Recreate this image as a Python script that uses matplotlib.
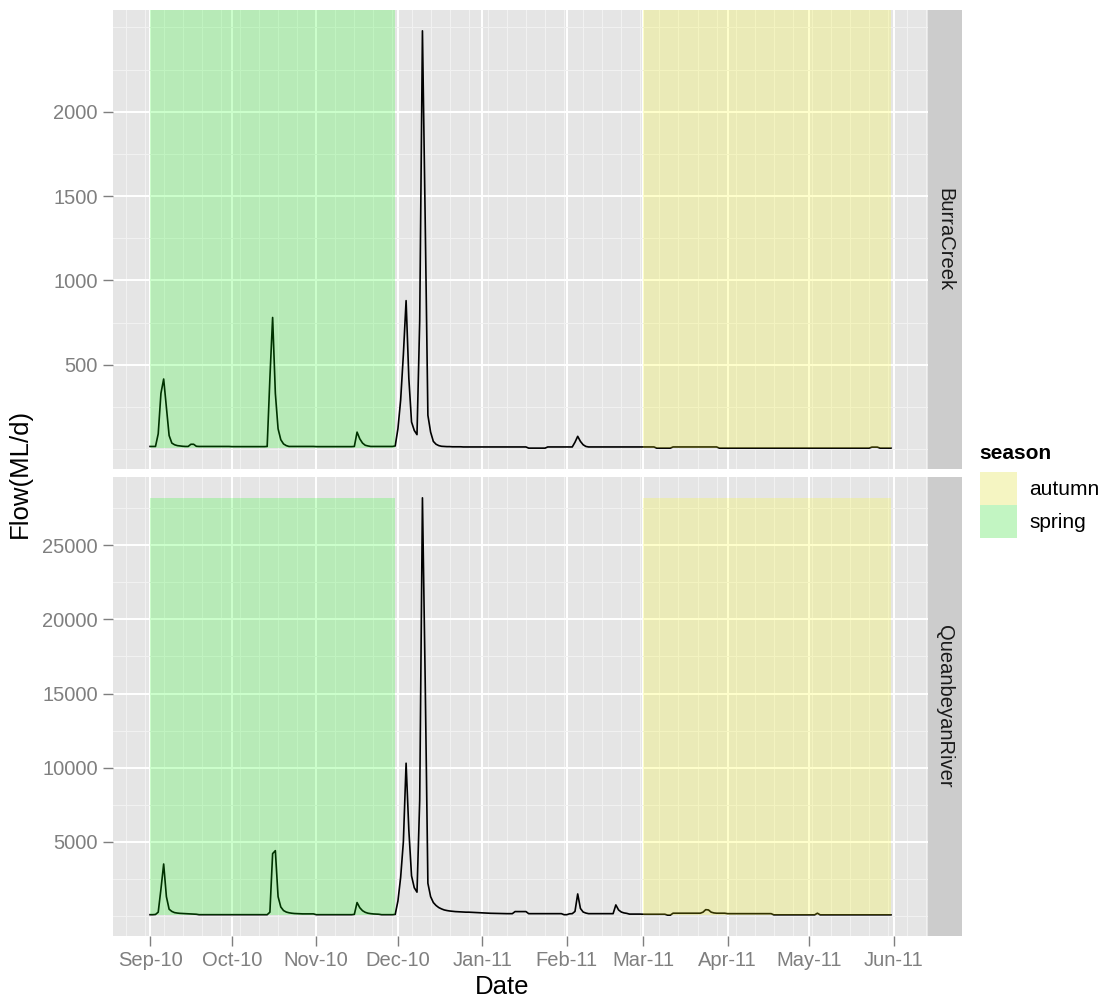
import pandas as pd
import matplotlib
matplotlib.use("Agg")
import matplotlib.pyplot as plt
import matplotlib.dates as mdates
import matplotlib.colors as mcolors
from matplotlib.patches import Patch

plt.rcParams['font.family'] = ['Liberation Sans', 'DejaVu Sans']

# daily flow (ML/d), 1 Sep 2010 - 31 May 2011
start_date = "2010-09-01"
burra_flow = [
    # Sep
    15, 15, 15, 90, 330, 415, 250, 80, 35, 25, 20, 18, 16, 15, 15, 28, 28, 16, 15, 15,
    15, 15, 15, 15, 15, 15, 15, 15, 15, 15,
    # Oct
    14, 14, 14, 14, 14, 14, 14, 14, 14, 14, 14, 14, 14, 15, 420, 780, 330, 120, 55, 30,
    20, 15, 15, 15, 15, 15, 15, 15, 15, 15, 15,
    # Nov
    14, 14, 14, 14, 14, 14, 14, 14, 14, 14, 14, 14, 14, 14, 15, 100, 60, 35, 22, 18,
    15, 15, 15, 15, 15, 15, 15, 15, 15, 18,
    # Dec
    120, 290, 560, 880, 420, 160, 110, 85, 760, 2480, 1370, 200, 100, 45, 28, 20, 16, 15, 14, 14,
    13, 13, 13, 13, 12, 12, 12, 12, 12, 12, 12,
    # Jan
    12, 12, 12, 12, 12, 12, 12, 12, 12, 12, 12, 12, 12, 12, 12, 12, 12, 5, 5, 5,
    5, 5, 5, 5, 12, 12, 12, 12, 12, 12, 12,
    # Feb
    12, 12, 12, 40, 75, 45, 25, 15, 12, 12, 12, 12, 12, 12, 12, 12, 12, 12, 12, 12,
    12, 12, 12, 12, 12, 12, 12, 12,
    # Mar
    12, 12, 12, 12, 12, 5, 5, 5, 5, 5, 5, 12, 12, 12, 12, 12, 12, 12, 12, 12,
    12, 12, 12, 12, 12, 12, 12, 12, 5, 5, 5,
    # Apr
    5, 5, 5, 5, 5, 5, 5, 5, 5, 5, 5, 5, 5, 5, 5, 5, 5, 5, 5, 5,
    5, 5, 5, 5, 5, 5, 5, 5, 5, 5,
    # May
    5, 5, 5, 5, 5, 5, 5, 5, 5, 5, 5, 5, 5, 5, 5, 5, 5, 5, 5, 5,
    5, 5, 5, 11, 11, 11, 5, 5, 5, 5, 5,
]
queanbeyan_flow = [
    # Sep
    80, 80, 95, 250, 1800, 3500, 1300, 450, 300, 220, 190, 170, 160, 150, 140, 130, 120, 110, 80, 80,
    80, 80, 80, 80, 80, 80, 80, 80, 80, 80,
    # Oct
    80, 80, 80, 80, 80, 80, 80, 80, 80, 80, 80, 80, 80, 80, 250, 4200, 4400, 1300, 600, 360,
    260, 210, 180, 160, 150, 135, 135, 135, 135, 135, 135,
    # Nov
    80, 80, 80, 80, 80, 80, 80, 80, 80, 80, 80, 80, 80, 80, 100, 900, 550, 350, 240, 180,
    150, 130, 120, 110, 80, 80, 80, 80, 80, 100,
    # Dec
    1000, 2600, 5000, 10300, 5800, 2700, 1900, 1600, 7800, 28200, 16000, 2200, 1300, 900, 700, 560, 470, 400, 360, 330,
    310, 290, 280, 270, 260, 250, 250, 240, 230, 220, 210,
    # Jan
    200, 190, 180, 175, 170, 165, 160, 155, 150, 150, 150, 150, 290, 290, 290, 290, 290, 150, 150, 150,
    150, 150, 150, 150, 150, 150, 150, 150, 150, 150, 80,
    # Feb
    80, 140, 150, 300, 1480, 500, 260, 190, 150, 150, 150, 150, 150, 150, 150, 150, 150, 150, 740, 400,
    260, 200, 170, 120, 120, 120, 120, 120,
    # Mar
    110, 110, 110, 110, 110, 110, 110, 110, 110, 50, 50, 180, 180, 180, 180, 180, 180, 180, 180, 180,
    180, 180, 250, 420, 400, 250, 200, 180, 180, 180, 180,
    # Apr
    150, 150, 150, 150, 150, 150, 150, 150, 150, 150, 150, 150, 150, 150, 150, 150, 150, 70, 70, 70,
    70, 70, 70, 70, 70, 70, 70, 70, 70, 70,
    # May
    70, 70, 70, 180, 70, 70, 70, 70, 70, 70, 70, 70, 70, 70, 70, 70, 70, 70, 70, 70,
    70, 70, 70, 70, 70, 70, 70, 70, 70, 70, 70,
]
site_names = ["BurraCreek", "QueanbeyanRiver"]
season_names = ["autumn", "spring"]
season_starts = ["2011-03-01", "2010-09-01"]
season_ends = ["2011-05-31", "2010-11-30"]
season_colors = ["#FFFF00", "#00FF00"]
y_breaks = [[500, 1000, 1500, 2000], [5000, 10000, 15000, 20000, 25000]]
y_minor = [[0, 250, 750, 1250, 1750, 2250, 2500],
           [0, 2500, 7500, 12500, 17500, 22500, 27500]]

dates = pd.date_range(start_date, periods=len(burra_flow), freq="D")
flows = [burra_flow, queanbeyan_flow]
rect_top = max(max(burra_flow), max(queanbeyan_flow))

W, H = 1102, 997
fig = plt.figure(figsize=(W / 100, H / 100), dpi=100)

panel_left, panel_right = 113, 928
panels = [(10, 469), (477, 936)]
tick_col = "#7F7F7F"

x0 = mdates.date2num(dates[0])
x1 = mdates.date2num(dates[-1])
xpad = 0.05 * (x1 - x0)

for i, (top, bot) in enumerate(panels):
    ax = fig.add_axes([panel_left / W, 1 - bot / H, (panel_right - panel_left) / W, (bot - top) / H])
    ax.set_facecolor("#E5E5E5")
    for s in ax.spines.values():
        s.set_visible(False)
    ax.set_axisbelow(True)

    flow = flows[i]
    ax.plot(dates, flow, color="black", lw=1.2, zorder=2)
    for name, s0, s1, col in zip(season_names, season_starts, season_ends, season_colors):
        ax.fill_between(pd.to_datetime([s0, s1]), min(flow), rect_top,
                        color=col, alpha=0.2, lw=0, zorder=3)

    lo, hi = min(flow), max(flow)
    ypad = 0.05 * (hi - lo)
    ax.set_ylim(lo - ypad, hi + ypad)
    ax.set_xlim(x0 - xpad, x1 + xpad)

    ax.xaxis.set_major_locator(mdates.MonthLocator())
    ax.xaxis.set_major_formatter(mdates.DateFormatter("%b-%y"))
    ax.xaxis.set_minor_locator(mdates.WeekdayLocator(byweekday=mdates.MO))
    ax.set_yticks(y_breaks[i])
    ax.set_yticks(y_minor[i], minor=True)

    ax.grid(which="major", color="white", lw=1.4)
    ax.grid(which="minor", color="#F2F2F2", lw=0.7)
    ax.tick_params(which="minor", length=0)
    ax.tick_params(which="major", length=7, width=1, color=tick_col,
                   labelcolor=tick_col, labelsize=14.5, pad=4)
    if i == 0:
        ax.tick_params(axis="x", which="both", length=0, labelbottom=False)

    # facet strip
    sax = fig.add_axes([panel_right / W, 1 - bot / H, 34 / W, (bot - top) / H])
    sax.set_facecolor("#CCCCCC")
    sax.set_xticks([])
    sax.set_yticks([])
    for s in sax.spines.values():
        s.set_visible(False)
    sax.text(0.5, 0.5, site_names[i], rotation=-90, ha="center", va="center",
             fontsize=14.5, color="#1A1A1A", transform=sax.transAxes)

fig.text(502 / W, 1 - 987 / H, "Date", ha="center", va="center", fontsize=18.5)
fig.text(20 / W, 1 - 473 / H, "Flow(ML/d)", ha="center", va="center",
         rotation=90, fontsize=18.5)

# legend: title as its own text, keys below
fig.text(979 / W, 1 - 453 / H, "season", ha="left", va="center",
         fontsize=15, fontweight="bold")
key_bg = mcolors.to_rgb("#F2F2F2")
handles = []
for col in season_colors:
    c = mcolors.to_rgb(col)
    mixed = tuple(0.8 * b + 0.2 * f for b, f in zip(key_bg, c))
    handles.append(Patch(facecolor=mixed, edgecolor="none"))
fig.legend(handles, season_names, loc="upper left",
           bbox_to_anchor=(980 / W, 1 - 472 / H), frameon=False, fontsize=15,
           handlelength=1.78, handleheight=2.06, labelspacing=0,
           handletextpad=0.6, borderpad=0, borderaxespad=0)

fig.savefig("out.png", dpi=100)
